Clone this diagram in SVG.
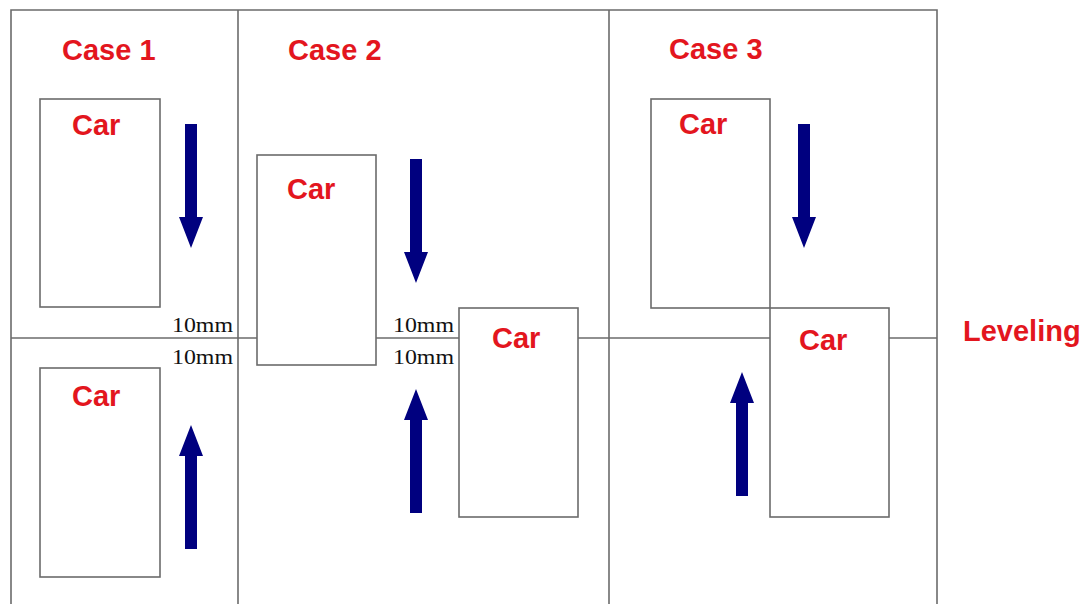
<svg xmlns="http://www.w3.org/2000/svg" width="1089" height="604" viewBox="0 0 1089 604">
  <defs>
    <style>
      .frame { fill: none; stroke: #6b6b6b; stroke-width: 1.6; }
      .car { fill: #ffffff; stroke: #6b6b6b; stroke-width: 1.6; }
      .red { fill: #e3161e; font-family: "Liberation Sans", Arial, sans-serif; font-weight: bold; font-size: 29px; }
      .dim { fill: #111111; font-family: "Liberation Serif", "Times New Roman", serif; font-size: 22px; }
      .arrow { fill: #00007f; }
    </style>
    <!-- downward arrow: tip at (0,0), pointing down -->
    <path id="arrowDown" d="M-6,-124 H6 V-31 H12 L0,0 L-12,-31 H-6 Z"/>
    <path id="arrowUp" d="M-6,124 H6 V31 H12 L0,0 L-12,31 H-6 Z"/>
  </defs>

  <rect width="1089" height="604" fill="#ffffff"/>

  <!-- outer frame, column dividers and leveling line -->
  <g id="frame">
    <path class="frame" d="M11,610 V10 H937 V610"/>
    <line class="frame" x1="238" y1="10" x2="238" y2="610"/>
    <line class="frame" x1="609" y1="10" x2="609" y2="610"/>
    <line class="frame" x1="11" y1="338" x2="937" y2="338"/>
  </g>

  <g id="case1">
    <text class="red" x="62" y="60">Case 1</text>
    <g id="case1-car-top">
      <rect class="car" x="40" y="99" width="120" height="208"/>
      <text class="red" x="72" y="135">Car</text>
    </g>
    <g id="case1-car-bottom">
      <rect class="car" x="40" y="368" width="120" height="209"/>
      <text class="red" x="72" y="406">Car</text>
    </g>
    <text class="dim" x="172" y="332" textLength="61" lengthAdjust="spacingAndGlyphs">10mm</text>
    <text class="dim" x="172" y="364" textLength="61" lengthAdjust="spacingAndGlyphs">10mm</text>
  </g>

  <g id="case2">
    <text class="red" x="288" y="60">Case 2</text>
    <g id="case2-car-top">
      <rect class="car" x="257" y="155" width="119" height="210"/>
      <text class="red" x="287" y="199">Car</text>
    </g>
    <g id="case2-car-bottom">
      <rect class="car" x="459" y="308" width="119" height="209"/>
      <text class="red" x="492" y="348">Car</text>
    </g>
    <text class="dim" x="393" y="332" textLength="61" lengthAdjust="spacingAndGlyphs">10mm</text>
    <text class="dim" x="393" y="364" textLength="61" lengthAdjust="spacingAndGlyphs">10mm</text>
  </g>

  <g id="case3">
    <text class="red" x="669" y="59">Case 3</text>
    <g id="case3-car-top">
      <rect class="car" x="651" y="99" width="119" height="209"/>
      <text class="red" x="679" y="134">Car</text>
    </g>
    <g id="case3-car-bottom">
      <rect class="car" x="770" y="308" width="119" height="209"/>
      <text class="red" x="799" y="350">Car</text>
    </g>
  </g>

  <g id="leveling">
    <text class="red" x="963" y="341">Leveling</text>
  </g>

  <!-- direction arrows -->
  <g id="connectors" class="arrow">
    <use href="#arrowDown" x="191" y="248"/>
    <use href="#arrowUp" x="191" y="425"/>
    <use href="#arrowDown" x="416" y="283"/>
    <use href="#arrowUp" x="416" y="389"/>
    <use href="#arrowDown" x="804" y="248"/>
    <use href="#arrowUp" x="742" y="372"/>
  </g>
</svg>
